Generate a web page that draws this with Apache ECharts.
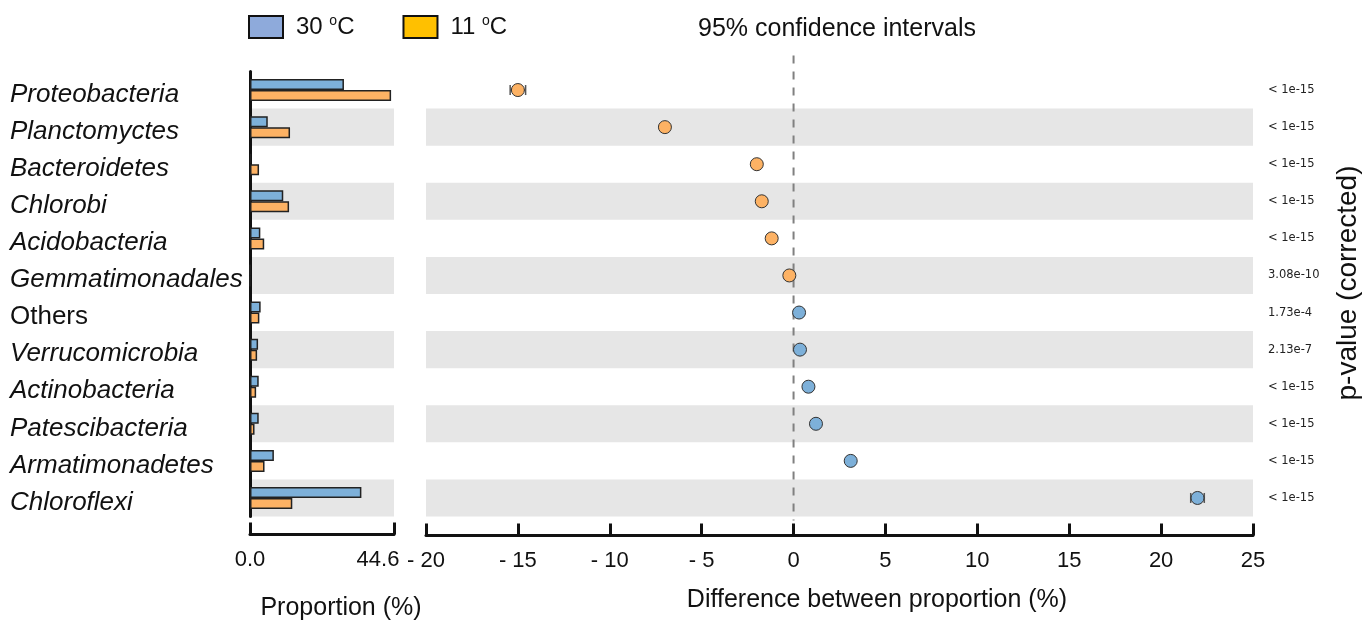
<!DOCTYPE html>
<html>
<head>
<meta charset="utf-8">
<script src="https://cdn.jsdelivr.net/npm/echarts@6/dist/echarts.min.js"></script>
<style>
html,body{margin:0;padding:0;background:#fff;}
#chart{width:1371px;height:620px;}
</style>
</head>
<body>
<div id="chart"></div>
<script>
// ---- data ----
const categories = ['Proteobacteria','Planctomyctes','Bacteroidetes','Chlorobi','Acidobacteria','Gemmatimonadales','Others','Verrucomicrobia','Actinobacteria','Patescibacteria','Armatimonadetes','Chloroflexi'];
const prop30 = [29.1, 5.5, 0.4, 10.3, 3.2, 0, 3.3, 2.5, 2.7, 2.7, 7.4, 34.5];
const prop11 = [43.7, 12.4, 2.8, 12.1, 4.4, 0, 2.9, 2.2, 1.9, 1.4, 4.5, 13.1];
const diffValues = [-15.0, -7.0, -2.0, -1.73, -1.19, -0.23, 0.30, 0.35, 0.81, 1.22, 3.11, 21.98];
const ciHalf = [0.42, 0.2, 0.12, 0.2, 0.1, 0.08, 0.08, 0.1, 0.08, 0.1, 0.12, 0.37];
const pValues = ['< 1e-15','< 1e-15','< 1e-15','< 1e-15','< 1e-15','3.08e-10','1.73e-4','2.13e-7','< 1e-15','< 1e-15','< 1e-15','< 1e-15'];
const propMax = 44.6;
const diffMin = -20, diffMax = 25, diffStep = 5;
const seriesNames = ['30 oC', '11 oC'];

const BLUE = '#7db0d9', ORANGE = '#fdb264';
const LEG_BLUE = '#8eaadb', LEG_YEL = '#ffc000';
const FONT = 'Liberation Sans, Arial, sans-serif';

const chart = echarts.init(document.getElementById('chart'), null, {renderer:'canvas'});

const gridTop = 71.5, gridH = 445;

const option = {
  animation: false,
  backgroundColor: '#fff',
  title: {
    text: '95% confidence intervals',
    left: 832, top: 12, textAlign: 'center',
    textStyle: {fontFamily: FONT, fontSize: 25, fontWeight: 'normal', color: '#111'}
  },
  legend: {
    left: 248, top: 14, padding: 0,
    itemWidth: 34, itemHeight: 22, itemGap: 48,
    icon: 'rect',
    data: [
      {name: seriesNames[0], itemStyle: {color: LEG_BLUE, borderColor: '#111', borderWidth: 2}},
      {name: seriesNames[1], itemStyle: {color: LEG_YEL, borderColor: '#111', borderWidth: 2}}
    ],
    formatter: function(n){ const p = n.split(' '); return '{a|' + p[0] + ' }{s|o}{a|C}'; },
    textStyle: {
      padding: [0,0,0,8],
      rich: {
        a: {fontFamily: FONT, fontSize: 24, color: '#111', lineHeight: 26},
        s: {fontFamily: FONT, fontSize: 14, color: '#111', lineHeight: 14, verticalAlign: 'top'}
      }
    }
  },
  grid: [
    {left: 250, width: 144, top: gridTop, height: gridH, outerBoundsMode: 'none', containLabel: false},
    {left: 426, width: 827, top: gridTop, height: gridH, outerBoundsMode: 'none', containLabel: false}
  ],
  xAxis: [
    {
      gridIndex: 0, type: 'value', min: 0, max: propMax, interval: propMax,
      offset: 18,
      name: 'Proportion (%)', nameLocation: 'middle', nameGap: 61,
      nameTextStyle: {fontFamily: FONT, fontSize: 25, color: '#111', padding: [0,0,0,38]},
      axisLine: {show: true, lineStyle: {color: '#111', width: 3}},
      axisTick: {show: true, inside: true, length: 12, lineStyle: {color: '#111', width: 3}},
      splitLine: {show: false},
      axisLabel: {
        fontFamily: FONT, fontSize: 22, color: '#111', margin: 14,
        showMinLabel: true, showMaxLabel: true,
        formatter: function(v){ return v === 0 ? '0.0' : '{r|' + v.toFixed(1) + '}'; },
        rich: {r: {fontFamily: FONT, fontSize: 22, color: '#111', padding: [0,32,0,0]}}
      }
    },
    {
      gridIndex: 1, type: 'value', min: diffMin, max: diffMax, interval: diffStep,
      offset: 19,
      name: 'Difference between proportion (%)', nameLocation: 'middle', nameGap: 52,
      nameTextStyle: {fontFamily: FONT, fontSize: 25, color: '#111', padding: [0,0,0,75]},
      axisLine: {show: true, lineStyle: {color: '#111', width: 3}},
      axisTick: {show: true, inside: true, length: 12, lineStyle: {color: '#111', width: 3}},
      splitLine: {show: false},
      axisLabel: {
        fontFamily: FONT, fontSize: 22, color: '#111', margin: 14,
        formatter: function(v){ return v < 0 ? '- ' + Math.abs(v) : String(v); }
      }
    }
  ],
  yAxis: [
    {
      gridIndex: 0, type: 'category', inverse: true, data: categories,
      axisLine: {show: true, onZero: false, lineStyle: {color: '#111', width: 3}},
      axisTick: {show: false},
      splitLine: {show: false},
      splitArea: {show: true, areaStyle: {color: ['rgba(255,255,255,0)', '#e6e6e6']}},
      axisLabel: {
        align: 'left', margin: 240,
        formatter: function(v){ return v === 'Others' ? '{n|' + v + '}' : '{i|' + v + '}'; },
        rich: {
          i: {fontFamily: FONT, fontSize: 26, fontStyle: 'italic', color: '#111', padding: [9,0,0,0]},
          n: {fontFamily: FONT, fontSize: 26, fontStyle: 'normal', color: '#111', padding: [9,0,0,0]}
        }
      }
    },
    {
      gridIndex: 1, type: 'category', inverse: true, data: pValues, position: 'right',
      axisLine: {show: false},
      axisTick: {show: false},
      splitLine: {show: false},
      splitArea: {show: true, areaStyle: {color: ['rgba(255,255,255,0)', '#e6e6e6']}},
      axisLabel: {fontFamily: 'DejaVu Sans, sans-serif', fontSize: 11.5, color: '#222', margin: 15, align: 'left'},
      name: 'p-value (corrected)', nameLocation: 'middle', nameRotate: 90, nameGap: 81,
      nameTextStyle: {fontFamily: FONT, fontSize: 28, color: '#111', padding: [0,0,0,22]}
    }
  ],
  series: [
    {
      name: seriesNames[0], type: 'bar', xAxisIndex: 0, yAxisIndex: 0,
      data: prop30, barWidth: 11, barGap: '0%',
      itemStyle: {color: BLUE, borderColor: '#222', borderWidth: 1.5}
    },
    {
      name: seriesNames[1], type: 'bar', xAxisIndex: 0, yAxisIndex: 0,
      data: prop11, barWidth: 11, barGap: '0%',
      itemStyle: {color: ORANGE, borderColor: '#222', borderWidth: 1.5}
    },
    {
      name: 'zero', type: 'custom', xAxisIndex: 1, yAxisIndex: 1, silent: true, z: 1,
      data: [[0, 0]],
      encode: {x: 0, y: 1},
      renderItem: function(params, api){
        const x = api.coord([0, 0])[0];
        const cs = params.coordSys;
        return {type: 'line', shape: {x1: x, y1: cs.y - 16, x2: x, y2: cs.y + cs.height + 4},
          style: {stroke: '#808080', lineWidth: 2, lineDash: [8, 8]}};
      }
    },
    {
      name: 'ci', type: 'custom', xAxisIndex: 1, yAxisIndex: 1, silent: true, z: 2,
      data: diffValues.map((d, i) => [d - ciHalf[i], d + ciHalf[i], i]),
      encode: {x: [0, 1], y: 2},
      renderItem: function(params, api){
        const lo = api.coord([api.value(0), api.value(2)]);
        const hi = api.coord([api.value(1), api.value(2)]);
        const st = {stroke: '#555', lineWidth: 1.5};
        return {type: 'group', children: [
          {type: 'line', shape: {x1: lo[0], y1: lo[1], x2: hi[0], y2: hi[1]}, style: st},
          {type: 'line', shape: {x1: lo[0], y1: lo[1] - 5, x2: lo[0], y2: lo[1] + 5}, style: st},
          {type: 'line', shape: {x1: hi[0], y1: hi[1] - 5, x2: hi[0], y2: hi[1] + 5}, style: st}
        ]};
      }
    },
    {
      name: 'diff', type: 'scatter', xAxisIndex: 1, yAxisIndex: 1, z: 3,
      symbol: 'circle', symbolSize: 13,
      data: diffValues.map((d, i) => ({value: [d, i], itemStyle: {color: d < 0 ? ORANGE : BLUE}})),
      itemStyle: {borderColor: '#333', borderWidth: 1, opacity: 1}
    }
  ]
};
chart.setOption(option);
</script>
</body>
</html>
